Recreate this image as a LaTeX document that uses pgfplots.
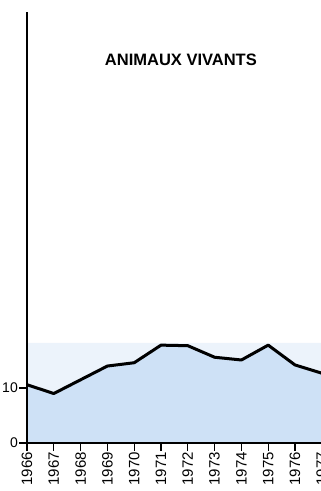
\documentclass[border=0pt]{standalone}
\usepackage{pgfplots}
\pgfplotsset{compat=1.18}
\usepackage{fontspec}
\setmainfont{Liberation Sans}
\definecolor{bandblue}{RGB}{236,243,251}
\definecolor{areablue}{RGB}{206,225,246}
\begin{document}
\begin{tikzpicture}
\begin{scope}
\clip (-27pt,-48pt) rectangle (294pt,443pt);
\begin{axis}[
  scale only axis,
  width=294.8pt, height=431pt,
  xmin=1966, xmax=1977,
  ymin=0, ymax=78.4,
  axis x line*=bottom, axis y line*=left,
  axis line style={-, line width=2pt, black},
  xtick={1966,...,1977},
  xticklabels={1966,1967,1968,1969,1970,1971,1972,1973,1974,1975,1976,1977},
  ytick={0,10}, yticklabels={0,10},
  tick align=outside,
  major tick length=8pt,
  tick style={black, line width=1.2pt},
  xticklabel style={rotate=90, anchor=east, font=\fontsize{15}{15}\selectfont, inner sep=1pt},
  yticklabel style={font=\fontsize{14}{14}\selectfont, inner sep=1pt},
  clip=false,
  axis on top,
]
\addplot[draw=none, fill=bandblue] coordinates {(1966,0) (1966,18.2) (1977,18.2) (1977,0)} \closedcycle;
\addplot[draw=none, fill=areablue] coordinates {
(1966,10.6) (1967,9.0) (1968,11.5) (1969,14.0) (1970,14.6) (1971,17.8)
(1972,17.7) (1973,15.6) (1974,15.1) (1975,17.8) (1976,14.2) (1977,12.7)} \closedcycle;
\addplot[black, line width=3pt, line join=round] coordinates {
(1966,10.6) (1967,9.0) (1968,11.5) (1969,14.0) (1970,14.6) (1971,17.8)
(1972,17.7) (1973,15.6) (1974,15.1) (1975,17.8) (1976,14.2) (1977,12.7)};
\node[font=\fontsize{16.5}{16.5}\selectfont\bfseries] at (rel axis cs:0.522,0.89) {ANIMAUX VIVANTS};
\end{axis}
\end{scope}
\pgfresetboundingbox
\path[use as bounding box] (-27pt,-48pt) rectangle (294pt,443pt);
\end{tikzpicture}
\end{document}
